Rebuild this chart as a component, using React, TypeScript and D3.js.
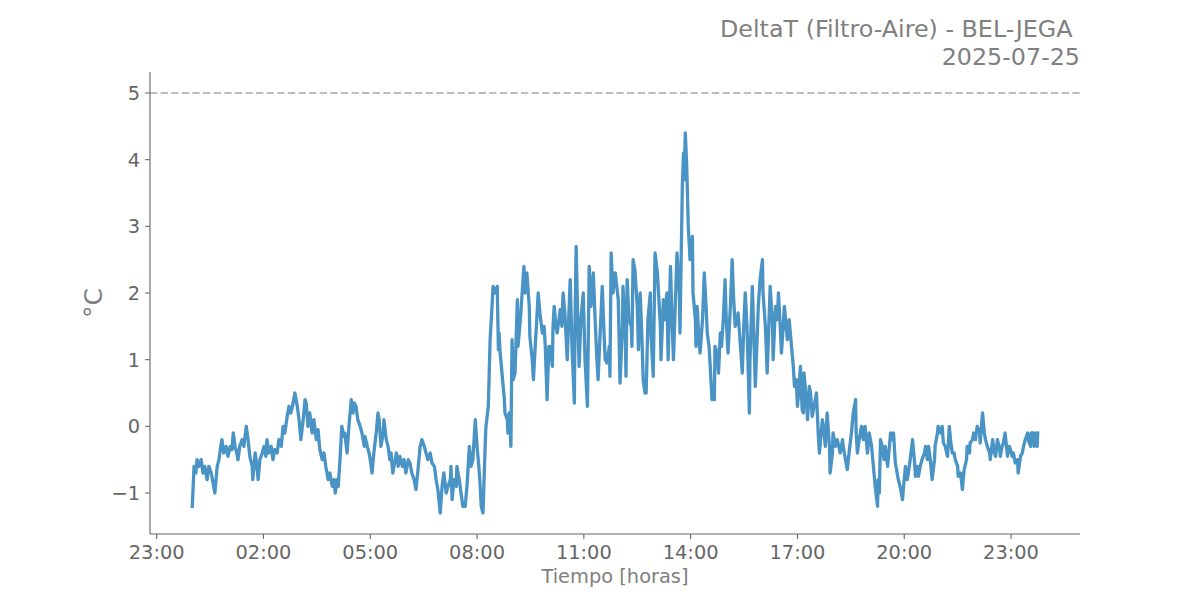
import React from "react";
import * as d3 from "d3";

// DeltaT readings: [minutes since 00:00, °C]
const overnight: [number, number][] = [
  [0, -1.2], [3, -0.6], [6, -0.7], [8, -0.5], [11, -0.6], [15, -0.5], [18, -0.7], [21, -0.6], [25, -0.8], [28, -0.6],
  [32, -0.7], [35, -0.85], [38, -1.0], [42, -0.6], [45, -0.5], [48, -0.3], [50, -0.2], [53, -0.4], [57, -0.3], [60, -0.45],
  [64, -0.3], [67, -0.35], [69, -0.1], [72, -0.3], [75, -0.4], [77, -0.5], [80, -0.3], [84, -0.2], [87, -0.3], [91, 0.0],
  [94, -0.2], [97, -0.45], [101, -0.6], [102, -0.8], [106, -0.4], [109, -0.6], [111, -0.8], [114, -0.5], [118, -0.4], [121, -0.3],
  [124, -0.45], [126, -0.2], [129, -0.4], [133, -0.3], [136, -0.5], [139, -0.35], [143, -0.4], [146, -0.2], [150, -0.3], [153, 0.0],
  [156, -0.1], [160, 0.15], [163, 0.3], [166, 0.2], [170, 0.35], [173, 0.5], [177, 0.3], [180, 0.1], [183, -0.2], [187, 0.1],
  [190, 0.4], [192, 0.35], [195, 0.0], [198, 0.2], [202, -0.1], [205, 0.1], [209, -0.2], [212, -0.05], [215, -0.35], [219, -0.5],
  [222, -0.4], [225, -0.6], [229, -0.8], [232, -0.7],
];

const dawn: [number, number][] = [
  [236, -0.9], [239, -0.8], [241, -1.0], [244, -0.8], [246, -0.9], [249, -0.5], [252, 0.0], [256, -0.15], [257, -0.1], [261, -0.4],
  [264, 0.0], [268, 0.4], [271, 0.2], [273, 0.35], [276, 0.3], [279, 0.1], [283, 0.0], [286, -0.1], [290, -0.3], [291, -0.15],
  [295, -0.3], [298, -0.4], [300, -0.5], [303, -0.7], [306, -0.4], [310, -0.1], [313, 0.2], [315, 0.1], [318, -0.3], [322, -0.1],
  [323, 0.1], [327, -0.2], [330, -0.3], [333, -0.5], [335, -0.4], [338, -0.7], [342, -0.5], [344, -0.4], [347, -0.6], [350, -0.45],
  [354, -0.6], [357, -0.5], [360, -0.7], [364, -0.5], [367, -0.55], [370, -0.7], [374, -0.8], [377, -0.95], [381, -0.6], [384, -0.3],
  [387, -0.2], [391, -0.3], [394, -0.4], [397, -0.5], [401, -0.4], [404, -0.55], [408, -0.6], [411, -0.8], [414, -0.95], [418, -1.3],
  [421, -0.9], [424, -0.7], [428, -1.0], [431, -0.9], [435, -0.8], [436, -0.6], [438, -1.1], [441, -0.8], [445, -0.9], [446, -0.6],
  [450, -0.8], [453, -1.0], [456, -1.2], [460, -1.2], [463, -0.9], [467, -0.3], [470, -0.6], [473, -0.5], [477, 0.1], [480, -0.3],
  [483, -0.6], [485, -0.85], [487, -1.2], [490, -1.3], [494, -0.2], [495, 0.0],
];

const morning: [number, number][] = [
  [499, 0.3], [502, 1.3], [504, 1.6], [507, 2.1], [510, 2.0], [514, 2.1], [516, 1.15], [517, 1.4], [519, 1.1], [522, 0.8],
  [524, 0.6], [526, 0.4], [527, 0.2], [531, 0.1], [532, -0.1], [534, 0.2], [536, -0.1], [537, -0.3], [539, 1.3], [541, 0.7],
  [544, 0.8], [548, 1.9], [549, 1.2], [553, 1.6], [556, 2.0], [559, 2.4], [561, 2.0], [564, 2.3], [568, 1.8], [569, 1.35],
  [573, 1.0], [575, 0.7], [578, 1.2], [580, 1.5], [583, 2.0], [586, 1.7], [590, 1.4], [593, 1.5], [595, 1.2], [598, 0.4],
  [601, 1.2], [603, 1.2], [607, 0.9], [608, 1.5], [610, 1.8], [613, 1.5], [615, 1.4], [618, 1.6], [620, 1.75], [623, 1.5],
  [625, 2.0], [628, 1.7], [632, 1.0], [634, 1.5], [637, 2.2], [640, 1.2], [644, 0.35], [645, 1.5], [647, 2.7], [650, 1.5],
  [652, 0.9], [655, 1.6], [659, 2.0], [662, 1.0], [666, 0.3], [669, 2.4], [672, 1.8], [676, 2.3], [679, 1.6], [682, 1.0],
  [684, 0.7], [688, 1.5],
];

const midday: [number, number][] = [
  [691, 2.1], [694, 1.4], [696, 1.0], [699, 0.95], [703, 1.2], [704, 0.75], [706, 2.6], [709, 2.0], [713, 2.3], [718, 1.9],
  [721, 0.65], [725, 1.5], [726, 2.1], [730, 1.3], [731, 0.75], [733, 2.2], [736, 1.6], [740, 1.5], [741, 1.2], [743, 2.5],
  [746, 2.35], [750, 1.8], [752, 1.15], [755, 2.0], [758, 1.3], [760, 0.7], [763, 0.5], [765, 0.5], [768, 1.6], [772, 2.0],
  [773, 1.4], [777, 0.75], [780, 2.6], [784, 2.3], [789, 1.5], [790, 1.0], [794, 1.9], [797, 1.6], [800, 2.0], [802, 1.0],
  [806, 2.4], [809, 1.5], [811, 1.0], [814, 1.8], [817, 2.6], [821, 2.0], [822, 1.4], [824, 2.5], [826, 3.6], [828, 4.1],
  [829, 3.7], [831, 4.4], [833, 4.0], [834, 3.7], [836, 3.0], [839, 2.5], [843, 2.85], [844, 2.0],
];

const afternoon: [number, number][] = [
  [848, 1.6], [849, 1.2], [851, 1.8], [854, 1.3], [856, 1.1], [860, 1.6], [863, 2.3], [866, 1.8], [868, 1.4], [871, 1.2],
  [873, 0.9], [876, 0.4], [878, 0.6], [880, 0.4], [881, 1.2], [885, 1.1], [887, 0.8], [890, 1.4], [892, 1.2], [895, 1.6],
  [898, 2.2], [900, 1.6], [903, 1.1], [907, 1.8], [910, 2.5], [912, 2.0], [915, 1.5], [919, 1.6], [920, 1.7], [924, 1.2],
  [927, 0.8], [930, 1.6], [932, 2.0], [935, 1.5], [939, 0.2], [940, 1.0], [944, 2.1], [947, 1.2], [949, 0.6], [952, 1.3],
  [954, 1.8], [957, 2.2], [961, 2.5], [962, 2.0], [966, 1.5], [969, 0.8], [971, 1.3], [974, 2.1], [978, 1.5], [979, 1.0],
  [983, 1.8], [986, 1.6], [988, 2.0], [991, 1.5], [993, 1.1], [996, 1.5], [998, 1.8], [1001, 1.5], [1003, 1.3], [1006, 1.6],
  [1008, 1.4], [1011, 1.1], [1013, 0.9], [1015, 0.6], [1018, 0.7], [1020, 0.3], [1023, 0.6], [1025, 0.9],
];

const evening: [number, number][] = [
  [1028, 0.25], [1030, 0.2], [1031, 0.8], [1035, 0.4], [1037, 0.1], [1040, 0.6], [1042, 0.5], [1045, 0.15], [1048, 0.3], [1052, 0.5],
  [1055, -0.1], [1057, -0.4], [1060, -0.1], [1062, 0.1], [1065, -0.1], [1067, -0.3], [1070, 0.2], [1074, -0.3], [1075, -0.7], [1079, -0.4],
  [1080, -0.1], [1084, -0.3], [1087, -0.2], [1091, -0.35], [1092, -0.4], [1096, -0.2], [1097, -0.3], [1101, -0.5], [1104, -0.65], [1107, -0.4],
  [1111, -0.1], [1114, 0.2], [1118, 0.4], [1119, -0.1], [1121, -0.4], [1124, -0.2], [1128, 0.0], [1131, -0.2], [1134, 0.0], [1138, -0.4],
  [1141, -0.1], [1145, -0.3], [1148, -0.6], [1151, -0.9], [1155, -1.2], [1156, -0.8], [1158, -1.0], [1160, -0.2],
];

const night: [number, number][] = [
  [1163, -0.3], [1166, -0.5], [1168, -0.3], [1172, -0.6], [1175, -0.3], [1177, -0.1], [1180, -0.2], [1182, -0.1], [1185, -0.55], [1188, -0.7],
  [1190, -0.8], [1193, -0.9], [1197, -1.1], [1198, -1.0], [1202, -0.6], [1205, -0.8], [1207, -0.7], [1210, -0.5], [1214, -0.2], [1217, -0.5],
  [1219, -0.75], [1222, -0.6], [1224, -0.75], [1227, -0.6], [1230, -0.5], [1234, -0.4], [1236, -0.3], [1239, -0.5], [1241, -0.3], [1244, -0.5],
  [1247, -0.8], [1251, -0.5], [1252, -0.3], [1256, -0.1], [1257, 0.0], [1261, -0.1], [1264, 0.0], [1266, -0.25], [1269, -0.3], [1273, -0.45],
  [1276, 0.0], [1278, -0.2], [1281, -0.4], [1284, -0.4], [1286, -0.5], [1290, -0.6], [1291, -0.75], [1295, -0.7], [1298, -0.95], [1301, -0.65],
  [1305, -0.5], [1306, -0.3], [1310, -0.4], [1311, -0.25], [1315, -0.2], [1317, -0.1], [1320, -0.2], [1323, 0.0], [1327, -0.1], [1328, -0.25],
  [1332, 0.2], [1335, -0.1], [1337, -0.2], [1340, -0.3], [1344, -0.4], [1345, -0.5], [1349, -0.2], [1352, -0.4], [1354, -0.45], [1357, -0.2],
  [1360, -0.3], [1362, -0.45], [1365, -0.3], [1367, -0.25], [1370, -0.1], [1374, -0.45], [1377, -0.3], [1379, -0.35], [1382, -0.45], [1384, -0.4],
  [1387, -0.55], [1391, -0.5], [1392, -0.7], [1396, -0.45], [1399, -0.4], [1401, -0.3], [1404, -0.2], [1408, -0.1], [1409, -0.2], [1413, -0.3],
  [1414, -0.1], [1418, -0.1], [1419, -0.3], [1423, -0.1], [1424, -0.3], [1425, -0.1],
];

const threshold = 5;
const xTickMinutes = [-60, 120, 300, 480, 660, 840, 1020, 1200, 1380];
const xTickLabels = ["23:00", "02:00", "05:00", "08:00", "11:00", "14:00", "17:00", "20:00", "23:00"];
const yTickValues = [-1, 0, 1, 2, 3, 4, 5];
const titleLines = ["DeltaT (Filtro-Aire) - BEL-JEGA ", "2025-07-25"];
const xLabel = "Tiempo [horas]";
const yLabel = "°C";

const W = 1200;
const H = 600;
const left = 150, right = 1080, top = 72, bottom = 534;
const FONT = "DejaVu Sans, sans-serif";

export default function App() {
  const data = [...overnight, ...dawn, ...morning, ...midday, ...afternoon, ...evening, ...night];
  const [t0, t1] = d3.extent(data, (d) => d[0]) as [number, number];
  const tPad = (t1 - t0) * 0.05;
  const vMin = Math.min(d3.min(data, (d) => d[1]) as number, threshold);
  const vMax = Math.max(d3.max(data, (d) => d[1]) as number, threshold);
  const vPad = (vMax - vMin) * 0.05;

  const x = d3.scaleLinear().domain([t0 - tPad, t1 + tPad]).range([left, right]);
  const y = d3.scaleLinear().domain([vMin - vPad, vMax + vPad]).range([bottom, top]);

  const line = d3
    .line<[number, number]>()
    .x((d) => x(d[0]))
    .y((d) => y(d[1]));

  const axisColor = "#666666";
  const tickColor = "#666666";
  const fs = 19.4;

  return (
    <svg
      width={W}
      height={H}
      viewBox={`0 0 ${W} ${H}`}
      style={{ position: "absolute", left: 0, top: 0, background: "#fff" }}
      fontFamily={FONT}
    >
      <rect x={0} y={0} width={W} height={H} fill="#ffffff" />
      {/* threshold line */}
      <line
        x1={left}
        x2={right}
        y1={y(threshold)}
        y2={y(threshold)}
        stroke="#bdbdbd"
        strokeWidth={2}
        strokeDasharray="7.4 3.2"
      />
      {/* data */}
      <path
        d={line(data) || ""}
        fill="none"
        stroke="#4a93c5"
        strokeWidth={3.3}
        strokeLinejoin="round"
        strokeLinecap="square"
      />
      {/* spines */}
      <line x1={left} x2={left} y1={top} y2={bottom} stroke={axisColor} strokeWidth={1.1} />
      <line x1={left} x2={right} y1={bottom} y2={bottom} stroke={axisColor} strokeWidth={1.1} />
      {/* y ticks */}
      {yTickValues.map((v) => (
        <g key={"y" + v}>
          <line x1={left - 4.9} x2={left} y1={y(v)} y2={y(v)} stroke={axisColor} strokeWidth={1.1} />
          <text x={left - 9.8} y={y(v)} dy="0.36em" textAnchor="end" fontSize={fs} fill={tickColor}>
            {v < 0 ? "\u2212" + Math.abs(v) : String(v)}
          </text>
        </g>
      ))}
      {/* x ticks */}
      {xTickMinutes.map((m, i) => (
        <g key={"x" + m}>
          <line x1={x(m)} x2={x(m)} y1={bottom} y2={bottom + 4.9} stroke={axisColor} strokeWidth={1.1} />
          <text x={x(m)} y={bottom + 25} textAnchor="middle" fontSize={fs} fill={tickColor}>
            {xTickLabels[i]}
          </text>
        </g>
      ))}
      {/* axis labels */}
      <text x={(left + right) / 2} y={583} textAnchor="middle" fontSize={fs} fill="#808080">
        {xLabel}
      </text>
      <text
        transform={`translate(102, ${(top + bottom) / 2}) rotate(-90)`}
        textAnchor="middle"
        fontSize={25}
        fill="#808080"
      >
        {yLabel}
      </text>
      {/* title */}
      <text x={right} y={36.5} textAnchor="end" fontSize={23.8} fill="#808080" style={{ whiteSpace: "pre" }}>
        {titleLines[0]}
      </text>
      <text x={right} y={64.8} textAnchor="end" fontSize={23.8} fill="#808080">
        {titleLines[1]}
      </text>
    </svg>
  );
}
